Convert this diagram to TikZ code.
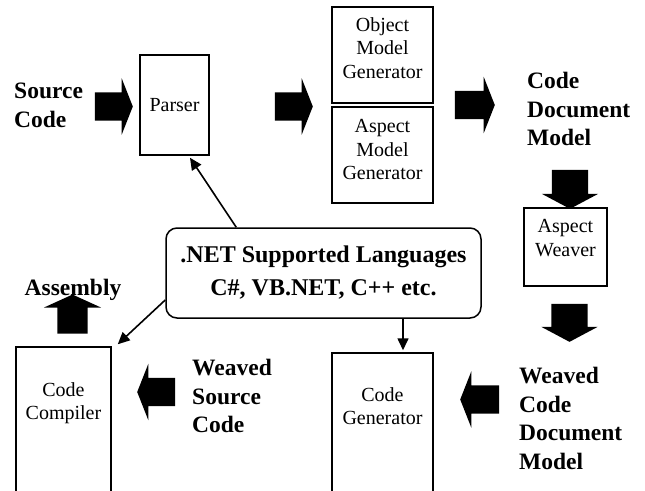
\documentclass[tikz,border=0pt]{standalone}
\usepackage{fontspec}
\setmainfont{Liberation Serif}
\usetikzlibrary{positioning,shapes.arrows,arrows.meta}

\tikzset{
  box/.style={draw, line width=1.5pt, inner sep=0pt},
  boxtext/.style={align=center, inner sep=0pt, anchor=north, font=\fontsize{20}{23.5}\selectfont},
  steplabel/.style={align=left, inner sep=0pt, anchor=north west, font=\fontsize{23.5}{28.5}\selectfont\bfseries},
  fatarrow/.style={single arrow, fill=black, draw=none, inner xsep=0pt, inner ysep=14pt,
    single arrow head extend=14pt, single arrow tip angle=137, minimum height=38pt},
  fatdown/.style={fatarrow, inner ysep=18pt, single arrow head extend=10pt,
    single arrow tip angle=124, rotate=-90},
  link/.style={line width=1.6pt, -{Triangle[length=12pt,width=11pt]}}
}

\begin{document}
\begin{tikzpicture}[x=1pt, y=-1pt]
		\useasboundingbox (0,0) rectangle (645,490);
		% boxes
		\node [box, minimum width=69pt, minimum height=100pt, font=\fontsize{20}{23.5}\selectfont] (parser) at (174.5,105) {Parser};
		\node [box, minimum width=101pt, minimum height=96pt] (objgen) at (382.5,55) {};
		\node [boxtext, below=11pt of objgen.north] (objgentext) {Object\\Model\\Generator};
		\node [box, minimum width=101pt, minimum height=96pt] (aspgen) at (382.5,155) {};
		\node [boxtext, below=13pt of aspgen.north] (aspgentext) {Aspect\\Model\\Generator};
		\node [box, minimum width=83pt, minimum height=78pt] (weaver) at (565.5,247) {};
		\node [boxtext, below=12pt of weaver.north] (weavertext) {Aspect\\Weaver};
		\node [box, minimum width=101pt, minimum height=150pt] (codegen) at (382.5,428) {};
		\node [boxtext, below=35pt of codegen.north] (codegentext) {Code\\Generator};
		\node [box, minimum width=95pt, minimum height=156pt] (compiler) at (63.5,425) {};
		\node [boxtext, below=36pt of compiler.north] (compilertext) {Code\\Compiler};
		\node [draw, line width=1.5pt, rounded corners=11pt, minimum width=315pt, minimum height=90pt,
		  align=center, font=\fontsize{24}{33}\selectfont\bfseries] (net) at (323.5,273)
		  {.NET Supported Languages\\C\#, VB.NET, C++ etc.};
		% labels
		\node [steplabel] (srclabel) at (14,83) {Source\\Code};
		\node [steplabel] (cdmlabel) at (527,72) {Code\\Document\\Model};
		\node [steplabel] (wsclabel) at (192,359) {Weaved\\Source\\Code};
		\node [steplabel] (wcdmlabel) at (519,367) {Weaved\\Code\\Document\\Model};
		\node [steplabel, anchor=base] (asmlabel) at (73,295) {Assembly};
		% fat arrows
		\node [fatarrow] (flow1) at (111,106.5) {};
		\node [fatarrow] (flow2) at (291,106.5) {};
		\node [fatarrow, minimum height=40pt] (flow3) at (472,105) {};
		\node [fatdown, minimum height=39pt] (flow4) at (570,184.5) {};
		\node [fatdown] (flow5) at (569.5,318) {};
		\node [fatarrow, rotate=180, minimum height=39pt] (flow6) at (482.5,399.5) {};
		\node [fatarrow, rotate=180] (flow7) at (159,392) {};
		\node [fatarrow, rotate=90, inner ysep=15pt, single arrow head extend=13.5pt,
		  single arrow tip angle=131, minimum height=39pt] (flow8) at (72.5,317.5) {};
		% thin connectors
		\draw [link] ([xshift=71pt]net.north west) -- ([shift={(15.5,2)}]parser.south);
		\draw [link] ([yshift=-27pt]net.west) -- ([shift={(6,-2)}]compiler.north east);
		\draw [link] ([xshift=79.5pt]net.south) -- ([shift={(20.5,-2)}]codegen.north);
\end{tikzpicture}
\end{document}
